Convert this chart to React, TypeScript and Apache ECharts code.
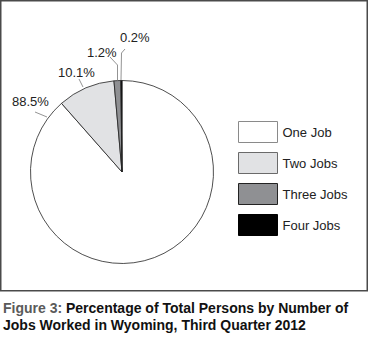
import React, { useEffect, useRef } from "react";
import * as echarts from "echarts";

const categories = ["One Job", "Two Jobs", "Three Jobs", "Four Jobs"];
const values = [88.5, 10.1, 1.2, 0.2];
const sliceColors = ["#ffffff", "#e1e2e4", "#8f9093", "#000000"];
const legendBorders = ["#8a8a8a", "#6a6a6a", "#222222", "#000000"];
// label anchor positions (left, middle) and leader-line points
const labelPos = [
  [12, 101],
  [58, 72],
  [87, 52],
  [120, 37],
];
const labelLines = [
  [[47, 117], [41, 114.5], [35, 112]],
  [[83, 87], [81, 83], [79, 79]],
  [[117.5, 80], [117.5, 65], [110, 57]],
  [[121, 80], [121.5, 53], [125, 49]],
];

export default function App() {
  const ref = useRef<HTMLDivElement>(null);
  useEffect(() => {
    if (!ref.current) return;
    const chart = echarts.init(ref.current, null, { renderer: "svg" });
    const font = "'Liberation Sans', Arial, sans-serif";
    const titleFont = "'Liberation Sans Narrow', 'Liberation Sans', sans-serif";
    chart.setOption({
      animation: false,
      backgroundColor: "#ffffff",
      title: {
        left: 3,
        top: 299,
        padding: 0,
        text:
          "{a|Figure 3: }{b|Percentage of Total Persons by Number of}\n{b|Jobs Worked in Wyoming, Third Quarter 2012}",
        textStyle: {
          rich: {
            a: { fontFamily: titleFont, fontSize: 14, color: "#5a5a5a", lineHeight: 17 },
            b: { fontFamily: titleFont, fontSize: 14, fontWeight: "bold", color: "#111", lineHeight: 17 },
          },
        },
      },
      legend: {
        orient: "vertical",
        left: 238,
        top: 121,
        padding: 0,
        itemWidth: 39,
        itemHeight: 21,
        itemGap: 9,
        icon: "rect",
        textStyle: { fontFamily: font, fontSize: 13, color: "#222", padding: [4, 0, 0, 0] },
        data: categories.map((c, i) => ({
          name: c,
          itemStyle: { color: sliceColors[i], borderColor: legendBorders[i], borderWidth: 1 },
        })),
      },
      graphic: [
        {
          type: "rect",
          shape: { x: 0.75, y: 0.75, width: 366.5, height: 290 },
          style: { fill: "none", stroke: "#4a4a4a", lineWidth: 1.5 },
        },
      ],
      series: [
        {
          type: "pie",
          center: [122, 172],
          radius: 91.5,
          startAngle: 90,
          clockwise: true,
          avoidLabelOverlap: false,
          itemStyle: { borderColor: "#222", borderWidth: 0.8 },
          label: {
            show: true,
            formatter: "{c}%",
            fontFamily: font,
            fontSize: 13,
            color: "#222",
          },
          labelLine: { show: true, lineStyle: { color: "#777", width: 0.8 } },
          labelLayout: (params: any) => {
            const i = params.dataIndex;
            return {
              x: labelPos[i][0],
              y: labelPos[i][1],
              align: "left",
              verticalAlign: "middle",
              labelLinePoints: labelLines[i],
            };
          },
          data: categories.map((c, i) => ({
            name: c,
            value: values[i],
            itemStyle: { color: sliceColors[i] },
          })),
        },
      ],
    });
    return () => chart.dispose();
  }, []);
  return (
    <div
      ref={ref}
      style={{ position: "fixed", left: 0, top: 0, width: 369, height: 348, background: "#fff" }}
    />
  );
}
